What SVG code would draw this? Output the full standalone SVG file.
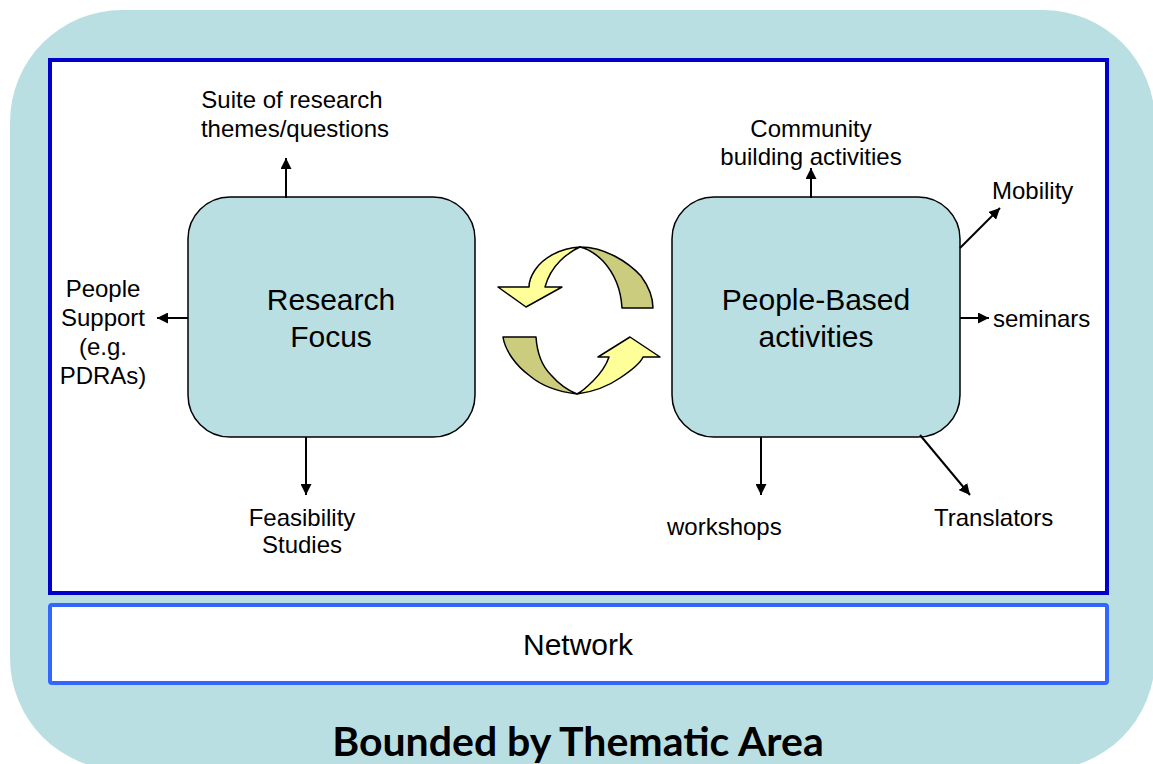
<svg xmlns="http://www.w3.org/2000/svg" width="1153" height="764" viewBox="0 0 1153 764">
<defs>
<marker id="ah" viewBox="0 0 10 10" refX="10" refY="5" markerWidth="11" markerHeight="11" markerUnits="userSpaceOnUse" orient="auto">
<path d="M0,0 L10,5 L0,10 Z" fill="#000"/>
</marker>
<style>
.lbl{font-family:"Liberation Sans",Arial,sans-serif;font-size:24px;fill:#000;}
.big{font-family:"Liberation Sans",Arial,sans-serif;font-size:30px;fill:#000;}
.node{fill:#B9DFE3;stroke:#000;stroke-width:1.5;}
.conn{stroke:#000;stroke-width:2;fill:none;marker-end:url(#ah);}
.light{fill:#FFFF99;stroke:#000;stroke-width:1.5;stroke-linejoin:round;}
.dark{fill:#CCCC7F;stroke:#000;stroke-width:1.5;stroke-linejoin:round;}
</style>
</defs>
<rect id="background" x="10" y="10" width="1145" height="760" rx="112" fill="#BADFE3"/>
<rect id="frame" x="50" y="60" width="1057" height="533" fill="#fff" stroke="#0000CC" stroke-width="4"/>
<g id="network">
<rect x="50" y="605" width="1057" height="78" rx="2" fill="#fff" stroke="#3366FF" stroke-width="4"/>
<text class="big" x="578" y="655" text-anchor="middle">Network</text>
</g>
<g id="research-focus">
<rect class="node" x="188" y="197" width="287" height="240" rx="42"/>
<text class="big" x="331" y="310" text-anchor="middle">Research</text>
<text class="big" x="331" y="347" text-anchor="middle">Focus</text>
</g>
<g id="people-based">
<rect class="node" x="672" y="197" width="288" height="240" rx="42"/>
<text class="big" x="816" y="310" text-anchor="middle">People-Based</text>
<text class="big" x="816" y="347" text-anchor="middle">activities</text>
</g>
<g id="cycle">
<path class="dark" d="M580,247 C605,247 628,262 641,276 C649,287 653,297 653,308 L622,308 C621,290 614,273 603,261 C596,254 588,249 580,247 Z"/>
<path class="light" d="M580,247 C560,248 543,258 535,270 C531,276 529,282 529,287 L498,287 L526,307 L562,287 L545,287 C548,276 553,268 560,261 C566,255 573,250 580,247 Z"/>
<path class="dark" d="M503,337 L536,337 C537,352 542,366 551,375 C558,383 567,390 577,394 C560,392 543,387 530,376 C515,365 505,350 503,337 Z"/>
<path class="light" d="M577,394 C592,392 607,387 620,378 C632,370 641,362 643,357 L660,357 L630,337 L598,357 L609,357 C606,366 600,374 593,381 C588,386 583,391 577,394 Z"/>
</g>
<g id="suite"><text class="lbl" x="292" y="108" text-anchor="middle">Suite of research</text><text class="lbl" x="295" y="137" text-anchor="middle">themes/questions</text></g>
<g id="people-support"><text class="lbl" x="103" y="297" text-anchor="middle">People</text><text class="lbl" x="103" y="326" text-anchor="middle">Support</text><text class="lbl" x="103" y="355" text-anchor="middle">(e.g.</text><text class="lbl" x="103" y="384" text-anchor="middle">PDRAs)</text></g>
<g id="feasibility"><text class="lbl" x="302" y="526" text-anchor="middle">Feasibility</text><text class="lbl" x="302" y="553" text-anchor="middle">Studies</text></g>
<g id="community"><text class="lbl" x="811" y="137" text-anchor="middle">Community</text><text class="lbl" x="811" y="165" text-anchor="middle">building activities</text></g>
<g id="mobility"><text class="lbl" x="992" y="199">Mobility</text></g>
<g id="seminars"><text class="lbl" x="993" y="327">seminars</text></g>
<g id="workshops"><text class="lbl" x="667" y="535">workshops</text></g>
<g id="translators"><text class="lbl" x="934" y="526">Translators</text></g>
<g id="connectors">
<line class="conn" x1="286" y1="198" x2="286" y2="158"/>
<line class="conn" x1="188" y1="318" x2="157" y2="318"/>
<line class="conn" x1="306" y1="437" x2="306" y2="495"/>
<line class="conn" x1="811" y1="198" x2="811" y2="168"/>
<line class="conn" x1="960" y1="248" x2="1000" y2="208"/>
<line class="conn" x1="960" y1="318" x2="989" y2="318"/>
<line class="conn" x1="761" y1="437" x2="761" y2="495"/>
<line class="conn" x1="920" y1="435" x2="970" y2="495"/>
</g>
<text id="title" x="578" y="756" text-anchor="middle" font-family="Lato,'Open Sans',sans-serif" font-weight="700" font-size="41">Bounded by Thematic Area</text>
</svg>
